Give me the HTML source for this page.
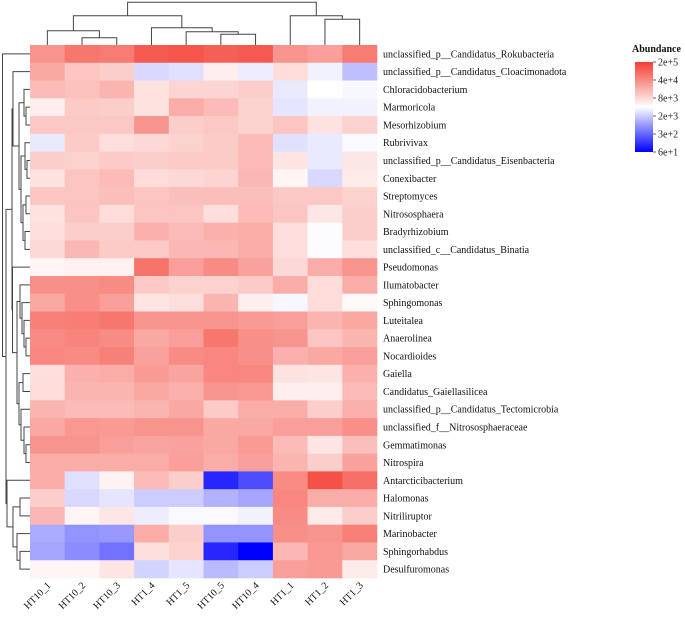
<!DOCTYPE html>
<html><head><meta charset="utf-8"><style>
body{margin:0;background:#fff;}
svg{display:block;font-family:"Liberation Serif",serif;}
</style></head><body>
<svg id="chart" width="685" height="618" viewBox="0 0 685 618"></svg>
<script>
const columns=["HT10_1","HT10_2","HT10_3","HT1_4","HT1_5","HT10_5","HT10_4","HT1_1","HT1_2","HT1_3"];
const rows=["unclassified_p__Candidatus_Rokubacteria","unclassified_p__Candidatus_Cloacimonadota","Chloracidobacterium","Marmoricola","Mesorhizobium","Rubrivivax","unclassified_p__Candidatus_Eisenbacteria","Conexibacter","Streptomyces","Nitrososphaera","Bradyrhizobium","unclassified_c__Candidatus_Binatia","Pseudomonas","Ilumatobacter","Sphingomonas","Luteitalea","Anaerolinea","Nocardioides","Gaiella","Candidatus_Gaiellasilicea","unclassified_p__Candidatus_Tectomicrobia","unclassified_f__Nitrososphaeraceae","Gemmatimonas","Nitrospira","Antarcticibacterium","Halomonas","Nitriliruptor","Marinobacter","Sphingorhabdus","Desulfuromonas"];
// relative score per cell (-1 blue .. 0 white .. 1 red), converted to log10 abundance below
const scores=[
[.55,.7,.68,.85,.88,.82,.85,.55,.5,.68],
[.45,.3,.25,-.15,-.12,.08,-.07,.18,-.05,-.25],
[.35,.32,.38,.15,.22,.22,.25,-.08,0,-.03],
[.08,.27,.25,.15,.42,.35,.23,-.1,-.05,-.05],
[.28,.28,.28,.55,.25,.28,.23,.3,.15,.23],
[-.08,.27,.17,.2,.23,.27,.35,-.12,-.08,-.02],
[.25,.23,.27,.25,.27,.27,.35,.13,-.08,.12],
[.15,.3,.35,.18,.2,.22,.37,.05,-.15,.1],
[.3,.3,.33,.3,.33,.33,.33,.28,.28,.23],
[.15,.3,.18,.3,.3,.17,.35,.3,.12,.25],
[.17,.25,.25,.4,.35,.4,.43,.17,-.01,.25],
[.2,.37,.27,.27,.37,.37,.42,.17,-.01,.17],
[.05,.07,.07,.72,.5,.6,.48,.2,.42,.55],
[.58,.58,.6,.28,.23,.23,.27,.42,.18,.42],
[.45,.58,.5,.13,.17,.38,.08,-.03,.18,.03],
[.65,.67,.7,.55,.55,.55,.52,.5,.38,.45],
[.6,.63,.6,.45,.5,.7,.58,.55,.3,.38],
[.62,.6,.65,.48,.6,.62,.58,.4,.45,.5],
[.17,.4,.43,.52,.47,.62,.62,.15,.13,.4],
[.18,.38,.38,.45,.4,.55,.53,.08,.08,.35],
[.38,.35,.35,.38,.45,.27,.43,.43,.25,.4],
[.45,.53,.52,.55,.55,.45,.45,.5,.5,.58],
[.55,.55,.5,.47,.48,.45,.52,.35,.13,.33],
[.43,.43,.43,.43,.5,.43,.5,.38,.25,.48],
[.42,-.12,.06,.35,.25,-.85,-.7,.6,.9,.75],
[.25,-.15,-.1,-.2,-.2,-.3,-.35,.62,.42,.42],
[.37,.05,.12,-.07,-.02,-.02,-.05,.6,.1,.25],
[-.33,-.42,-.4,.42,.25,-.42,-.42,.58,.55,.65],
[-.35,-.45,-.55,.17,.23,-.85,-1,.37,.53,.45],
[.05,.05,.13,-.17,-.1,-.27,-.2,.5,.52,.1]];
const legendTicks=["2e+5","4e+4","8e+3","2e+3","3e+2","6e+1"];
const logMin=Math.log10(60), logMax=Math.log10(2e5);

const svg=document.getElementById('chart');
const NS="http://www.w3.org/2000/svg";
function mk(t,a,p){const e=document.createElementNS(NS,t);for(const k in a)e.setAttribute(k,a[k]);(p||svg).appendChild(e);return e;}
const gx0=30,gx1=377,gy0=45,gy1=578;
const cw=(gx1-gx0)/columns.length, rh=(gy1-gy0)/rows.length;
const xs=i=>gx0+i*cw, ys=i=>gy0+i*rh;
const mid=(logMin+logMax)/2, half=(logMax-logMin)/2;
const logVals=scores.map(r=>r.map(s=>mid+s*half));
function color(v){
  let t=(v-mid)/half; t=Math.max(-1,Math.min(1,t));
  let r,g,b;
  if(t>=0){r=255+(244-255)*t;g=255+(62-255)*t;b=255+(50-255)*t;}
  else{const u=-t;r=255*(1-u);g=255*(1-u);b=255;}
  return `rgb(${r|0},${g|0},${b|0})`;
}
const cells=mk('g',{});


logVals.forEach((row,i)=>row.forEach((v,j)=>{
  const r=mk('rect',{x:xs(j),y:ys(i),width:cw+0.3,height:rh+0.3,fill:color(v)},cells);
  
  
}));
// row labels
rows.forEach((n,i)=>{
  const t=mk('text',{x:383,y:ys(i)+rh/2+3.5,'font-size':10,fill:'#111'});
  t.textContent=n;
  
  
});
// column labels
columns.forEach((n,j)=>{
  const cx=xs(j)+cw/2+4,cy=586;
  const t=mk('text',{x:cx,y:cy,'font-size':10,fill:'#111','text-anchor':'end',transform:`rotate(-45 ${cx} ${cy})`});
  t.textContent=n;
  
  
});
// dendrograms
const dg=mk('g',{stroke:'#444','stroke-width':1,fill:'none'});


// column tree: [height(y), left, right]
const colTree=[2.3,[15.7,[30.7,0,[37.7,1,2]],[27.7,3,[31.7,4,[34.3,5,6]]]],[15.7,7,[19.3,8,9]]];
function drawCol(n){
  if(typeof n==='number')return{x:xs(n)+cw/2,y:gy0};
  const a=drawCol(n[1]),b=drawCol(n[2]);
  mk('path',{d:`M${a.x},${a.y}V${n[0]}H${b.x}V${b.y}`},dg);
  return{x:(a.x+b.x)/2,y:n[0]};
}
drawCol(colTree);
const rowTree=[2.5,0,[6,
  [12,[13,1,[19,[24,2,[26,3,4]],[21,[25,5,[27,6,7]],[23,[26,8,9],[25,10,11]]]]],
      [12.5,12,[17,[20,13,[22,14,[24,15,[26,16,17]]]],[19,[23,18,19],[21,20,[24,21,[26,22,23]]]]]]],
  [7,24,[13,[20,25,26],[17,27,[20,28,29]]]]]];
function drawRow(n){
  if(typeof n==='number')return{y:ys(n)+rh/2,x:gx0};
  const a=drawRow(n[1]),b=drawRow(n[2]);
  mk('path',{d:`M${a.x},${a.y}H${n[0]}V${b.y}H${b.x}`},dg);
  return{y:(a.y+b.y)/2,x:n[0]};
}
drawRow(rowTree);
// legend
const lg=mk('g',{});


const defs=mk('defs',{});
const grad=mk('linearGradient',{id:'gr',x1:0,y1:0,x2:0,y2:1},defs);
mk('stop',{offset:'0', 'stop-color':color(logMax)},grad);
mk('stop',{offset:'0.5','stop-color':'#fff'},grad);
mk('stop',{offset:'1','stop-color':color(logMin)},grad);
const lt=mk('text',{x:632,y:52,'font-size':10,'font-weight':'bold',fill:'#111'},lg);
lt.textContent='Abundance';


mk('rect',{x:635,y:62,width:18,height:90,fill:'url(#gr)'},lg);
legendTicks.forEach((s,i)=>{
  const y=62+i*90/(legendTicks.length-1);
  mk('line',{x1:653,x2:656,y1:y,y2:y,stroke:'#666'},lg);
  const t=mk('text',{x:658,y:y+3.5,'font-size':10,fill:'#222'},lg);
  t.textContent=s;
  
  
});
</script>
</body></html>
